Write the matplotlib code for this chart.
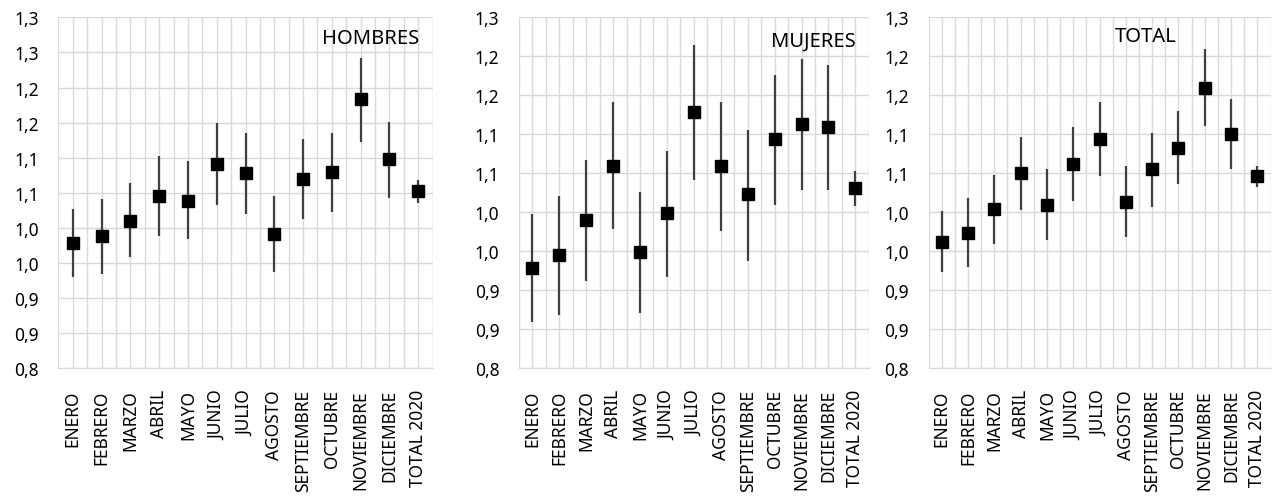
import numpy as np
import matplotlib.pyplot as plt

plt.rcParams['font.family'] = ['Noto Sans', 'DejaVu Sans']

meses = ['ENERO', 'FEBRERO', 'MARZO', 'ABRIL', 'MAYO', 'JUNIO', 'JULIO', 'AGOSTO',
         'SEPTIEMBRE', 'OCTUBRE', 'NOVIEMBRE', 'DICIEMBRE', 'TOTAL 2020']

# punto central y limites del intervalo
hombres = [0.978, 0.988, 1.010, 1.045, 1.039, 1.091, 1.078, 0.992, 1.069, 1.079, 1.183, 1.098, 1.052]
hombres_hi = [1.027, 1.041, 1.064, 1.102, 1.095, 1.149, 1.135, 1.046, 1.127, 1.135, 1.242, 1.151, 1.068]
hombres_lo = [0.930, 0.934, 0.958, 0.988, 0.984, 1.032, 1.020, 0.937, 1.012, 1.022, 1.123, 1.043, 1.036]

mujeres = [0.929, 0.945, 0.990, 1.060, 0.949, 0.999, 1.128, 1.059, 1.023, 1.094, 1.113, 1.109, 1.031]
mujeres_hi = [0.998, 1.021, 1.067, 1.142, 1.026, 1.079, 1.215, 1.141, 1.106, 1.176, 1.197, 1.189, 1.053]
mujeres_lo = [0.860, 0.869, 0.912, 0.979, 0.871, 0.917, 1.041, 0.976, 0.938, 1.009, 1.028, 1.029, 1.008]

total = [0.962, 0.974, 1.004, 1.050, 1.010, 1.062, 1.094, 1.013, 1.055, 1.083, 1.160, 1.101, 1.046]
total_hi = [1.002, 1.018, 1.048, 1.097, 1.056, 1.109, 1.142, 1.059, 1.102, 1.130, 1.209, 1.145, 1.059]
total_lo = [0.923, 0.930, 0.960, 1.003, 0.965, 1.014, 1.046, 0.968, 1.007, 1.036, 1.111, 1.056, 1.033]

GRID = '#d9d9d9'

fig = plt.figure(figsize=(12.76, 5.02), dpi=100)

paneles = [
    ('HOMBRES', hombres, hombres_lo, hombres_hi, 1.30, [0.0457, 0.2643, 0.2934, 0.6992], (0.2908, 0.9223)),
    ('MUJERES', mujeres, mujeres_lo, mujeres_hi, 1.25, [0.4066, 0.2643, 0.2743, 0.6992], (0.6371, 0.9170)),
    ('TOTAL', total, total_lo, total_hi, 1.25, [0.7277, 0.2643, 0.2680, 0.6992], (0.8981, 0.9269)),
]

for nombre, v, lo, hi, ymax, pos, tpos in paneles:
    ax = fig.add_axes(pos)
    x = np.arange(len(meses))
    v = np.array(v)
    err = [v - np.array(lo), np.array(hi) - v]
    ax.errorbar(x, v, yerr=err, fmt='s', color='black', ms=8, ecolor='#404040',
                elinewidth=1.6, capsize=0, zorder=3)
    ax.set_xlim(-0.5, len(meses) - 0.5)
    ax.set_ylim(0.8, ymax)
    yt = np.arange(0.80, ymax + 0.001, 0.05)
    ax.set_yticks(yt)
    ax.set_yticklabels([f'{t + 1e-9:.1f}'.replace('.', ',') for t in yt])
    ax.set_xticks(x)
    ax.set_xticks(np.arange(-0.5, len(meses), 1.0), minor=True)
    ax.set_xticklabels(meses, rotation=90)
    ax.grid(True, which='both', axis='x', color=GRID, lw=1)
    ax.grid(True, which='major', axis='y', color=GRID, lw=1)
    ax.set_axisbelow(True)
    for s in ['top', 'right', 'left']:
        ax.spines[s].set_visible(False)
    ax.spines['bottom'].set_color(GRID)
    ax.tick_params(which='both', length=0, labelsize=12.5, colors='black')
    ax.tick_params(axis='x', pad=15)
    ax.tick_params(axis='y', pad=14)
    fig.text(tpos[0], tpos[1], nombre, ha='center', va='center', fontsize=14.5, color='black')

plt.savefig('out.png', dpi=100)
